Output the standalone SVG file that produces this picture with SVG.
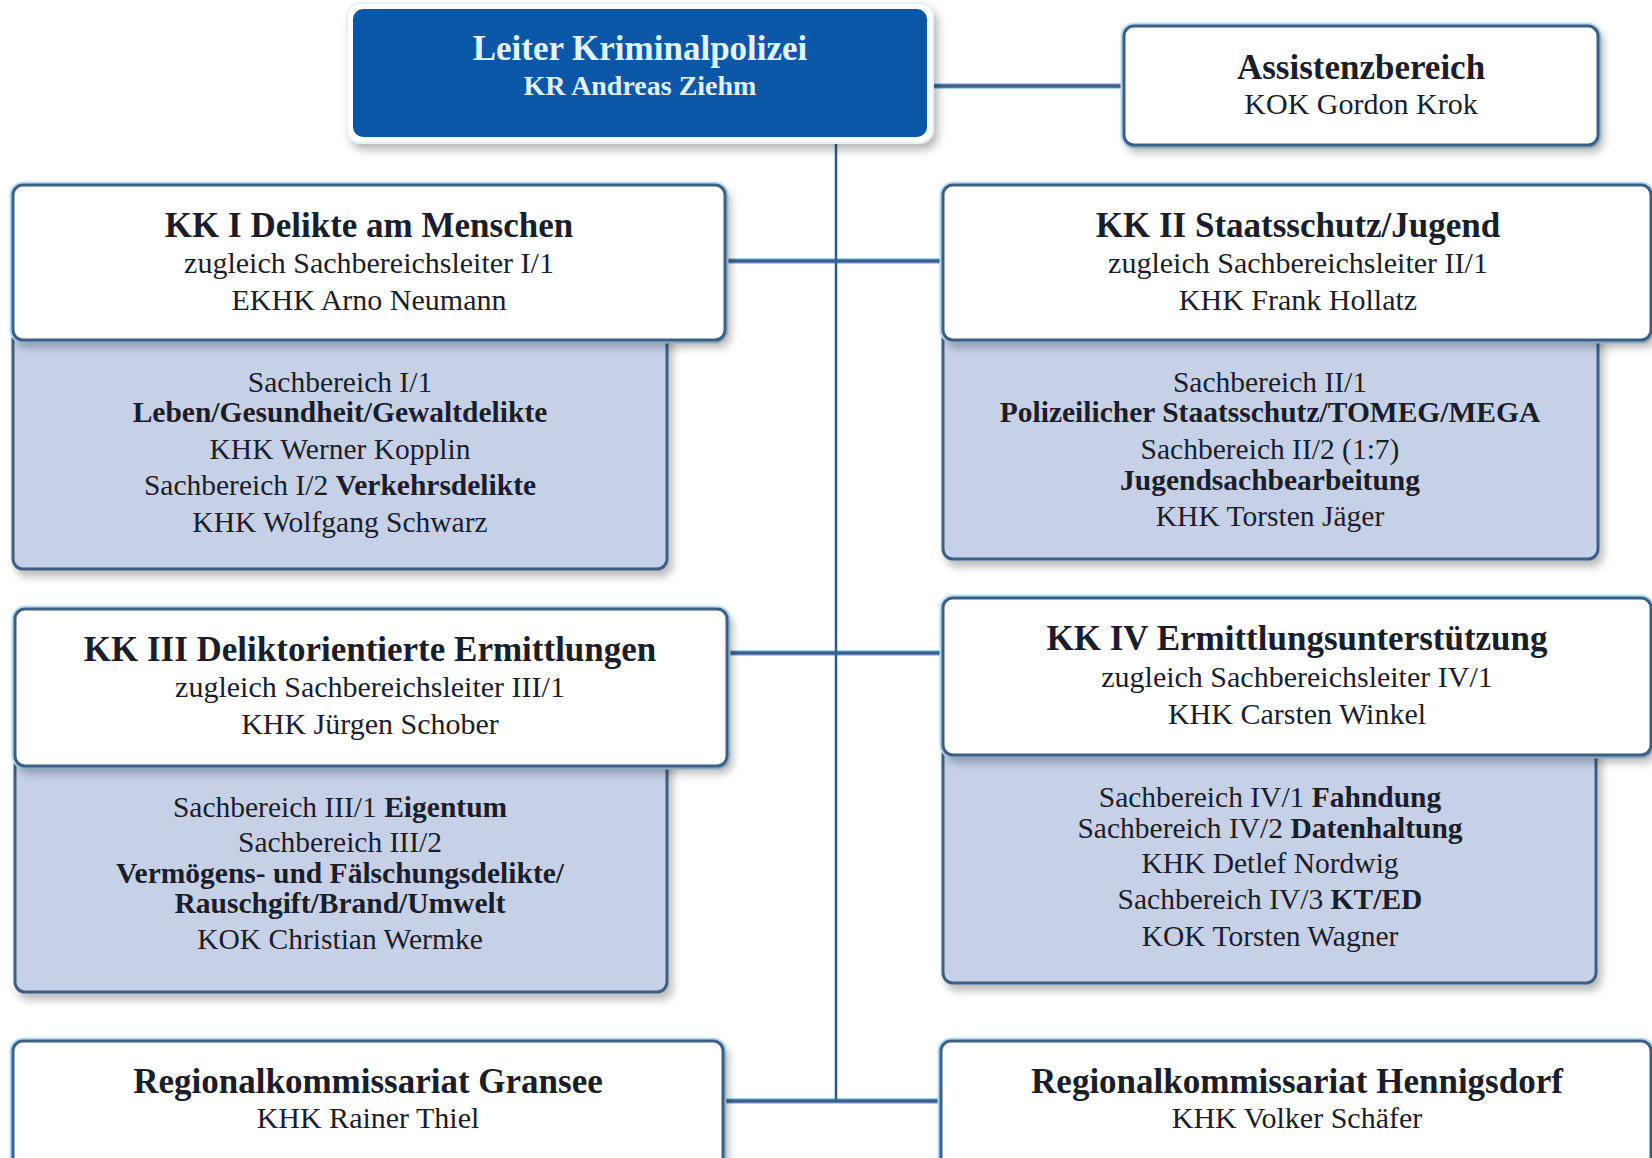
<svg xmlns="http://www.w3.org/2000/svg" width="1652" height="1158" viewBox="0 0 1652 1158">
  <defs>
    <filter id="shadow" x="-5%" y="-10%" width="112%" height="125%">
      <feDropShadow dx="4" dy="6" stdDeviation="4" flood-color="#000" flood-opacity="0.28"/>
    </filter>
    <style>
      text { font-family: "Liberation Serif", "Times New Roman", serif; text-anchor: middle; fill: #1b1d2a; }
      .t { font-size: 35px; font-weight: bold; }
      .r { font-size: 30px; }
      .s { font-size: 29.5px; }
      .b { font-weight: bold; }
      .head { fill: #ffffff; stroke: #3d5f86; stroke-width: 3; filter: url(#shadow); }
      .glow { fill: none; stroke: #b9e2fb; stroke-width: 7; }
      .sub { fill: #c6d1e8; stroke: #3d5f86; stroke-width: 3; filter: url(#shadow); }
      .halo { stroke: #a9d4f2; stroke-width: 6; fill: none; }
      .link { stroke: #3a638e; stroke-width: 3.5; fill: none; }
      .trunk { stroke: #2f5b87; stroke-width: 2.5; fill: none; }
      .lead { fill: #e3f2ff; }
    </style>
  </defs>

  <rect width="1652" height="1158" fill="#ffffff"/>

  <!-- connectors: central trunk plus the horizontal branches -->
  <g id="connectors">
    <line class="halo" x1="930" y1="86" x2="1124" y2="86"/>
    <line class="halo" x1="725" y1="261" x2="943" y2="261"/>
    <line class="halo" x1="727" y1="653" x2="943" y2="653"/>
    <line class="halo" x1="723" y1="1101" x2="941" y2="1101"/>
    <line class="trunk" x1="836" y1="140" x2="836" y2="1101"/>
    <line class="link" x1="930" y1="86" x2="1124" y2="86"/>
    <line class="link" x1="725" y1="261" x2="943" y2="261"/>
    <line class="link" x1="727" y1="653" x2="943" y2="653"/>
    <line class="link" x1="723" y1="1101" x2="941" y2="1101"/>
  </g>

  <!-- head of department -->
  <g id="leiter">
    <rect x="347" y="3" width="586" height="140" rx="14" fill="#ffffff" stroke="#e4f3fb" stroke-width="2" filter="url(#shadow)"/>
    <rect x="353" y="9" width="574" height="128" rx="10" fill="#0a57a8"/>
    <text class="t lead" x="640" y="60">Leiter Kriminalpolizei</text>
    <text class="lead b" x="640" y="95" style="font-size:28px">KR Andreas Ziehm</text>
  </g>

  <!-- assistant area -->
  <g id="assistenz">
    <rect class="glow" x="1124" y="26" width="474" height="119" rx="10"/>
    <rect class="head" x="1124" y="26" width="474" height="119" rx="10"/>
    <text class="t" x="1361" y="79">Assistenzbereich</text>
    <text class="r" x="1361" y="114">KOK Gordon Krok</text>
  </g>

  <!-- KK I -->
  <g id="kk1">
    <rect class="sub" x="13" y="330" width="654" height="239" rx="10"/>
    <rect class="glow" x="13" y="185" width="712" height="155" rx="10"/>
    <rect class="head" x="13" y="185" width="712" height="155" rx="10"/>
    <text class="t" x="369" y="237">KK I Delikte am Menschen</text>
    <text class="r" x="369" y="273">zugleich Sachbereichsleiter I/1</text>
    <text class="r" x="369" y="310">EKHK Arno Neumann</text>
    <text class="s" x="340" y="392">Sachbereich I/1</text>
    <text class="s b" x="340" y="422">Leben/Gesundheit/Gewaltdelikte</text>
    <text class="s" x="340" y="459">KHK Werner Kopplin</text>
    <text class="s" x="340" y="495">Sachbereich I/2 <tspan class="b">Verkehrsdelikte</tspan></text>
    <text class="s" x="340" y="532">KHK Wolfgang Schwarz</text>
  </g>

  <!-- KK II -->
  <g id="kk2">
    <rect class="sub" x="943" y="330" width="655" height="229" rx="10"/>
    <rect class="glow" x="943" y="185" width="708" height="155" rx="10"/>
    <rect class="head" x="943" y="185" width="708" height="155" rx="10"/>
    <text class="t" x="1298" y="237">KK II Staatsschutz/Jugend</text>
    <text class="r" x="1298" y="273">zugleich Sachbereichsleiter II/1</text>
    <text class="r" x="1298" y="310">KHK Frank Hollatz</text>
    <text class="s" x="1270" y="392">Sachbereich II/1</text>
    <text class="s b" x="1270" y="422">Polizeilicher Staatsschutz/TOMEG/MEGA</text>
    <text class="s" x="1270" y="459">Sachbereich II/2 (1:7)</text>
    <text class="s b" x="1270" y="490">Jugendsachbearbeitung</text>
    <text class="s" x="1270" y="526">KHK Torsten Jäger</text>
  </g>

  <!-- KK III -->
  <g id="kk3">
    <rect class="sub" x="15" y="756" width="652" height="236" rx="10"/>
    <rect class="glow" x="15" y="609" width="712" height="157" rx="10"/>
    <rect class="head" x="15" y="609" width="712" height="157" rx="10"/>
    <text class="t" x="370" y="661">KK III Deliktorientierte Ermittlungen</text>
    <text class="r" x="370" y="697">zugleich Sachbereichsleiter III/1</text>
    <text class="r" x="370" y="734">KHK Jürgen Schober</text>
    <text class="s" x="340" y="817">Sachbereich III/1 <tspan class="b">Eigentum</tspan></text>
    <text class="s" x="340" y="852">Sachbereich III/2</text>
    <text class="s b" x="340" y="883">Vermögens- und Fälschungsdelikte/</text>
    <text class="s b" x="340" y="913">Rauschgift/Brand/Umwelt</text>
    <text class="s" x="340" y="949">KOK Christian Wermke</text>
  </g>

  <!-- KK IV -->
  <g id="kk4">
    <rect class="sub" x="943" y="745" width="653" height="238" rx="10"/>
    <rect class="glow" x="943" y="598" width="708" height="157" rx="10"/>
    <rect class="head" x="943" y="598" width="708" height="157" rx="10"/>
    <text class="t" x="1297" y="650">KK IV Ermittlungsunterstützung</text>
    <text class="r" x="1297" y="687">zugleich Sachbereichsleiter IV/1</text>
    <text class="r" x="1297" y="724">KHK Carsten Winkel</text>
    <text class="s" x="1270" y="807">Sachbereich IV/1 <tspan class="b">Fahndung</tspan></text>
    <text class="s" x="1270" y="838">Sachbereich IV/2 <tspan class="b">Datenhaltung</tspan></text>
    <text class="s" x="1270" y="873">KHK Detlef Nordwig</text>
    <text class="s" x="1270" y="909">Sachbereich IV/3 <tspan class="b">KT/ED</tspan></text>
    <text class="s" x="1270" y="946">KOK Torsten Wagner</text>
  </g>

  <!-- regional offices -->
  <g id="gransee">
    <rect class="glow" x="13" y="1041" width="710" height="140" rx="10"/>
    <rect class="head" x="13" y="1041" width="710" height="140" rx="10"/>
    <text class="t" x="368" y="1093">Regionalkommissariat Gransee</text>
    <text class="r" x="368" y="1128">KHK Rainer Thiel</text>
  </g>
  <g id="hennigsdorf">
    <rect class="glow" x="941" y="1041" width="710" height="140" rx="10"/>
    <rect class="head" x="941" y="1041" width="710" height="140" rx="10"/>
    <text class="t" x="1297" y="1093">Regionalkommissariat Hennigsdorf</text>
    <text class="r" x="1297" y="1128">KHK Volker Schäfer</text>
  </g>
</svg>
